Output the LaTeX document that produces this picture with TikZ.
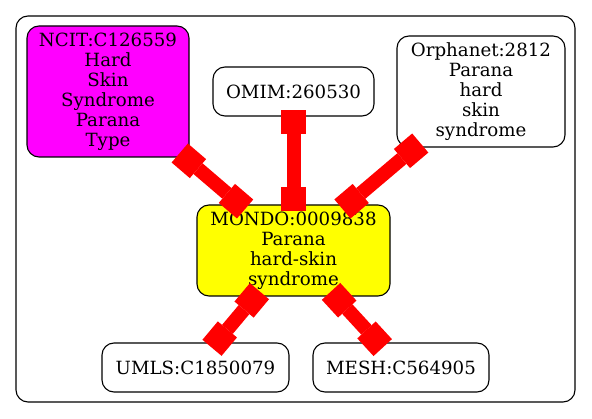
\documentclass[tikz,border=0pt]{standalone}
\usepackage{fontspec}
\setmainfont{DejaVu Serif}
\usetikzlibrary{arrows.meta}
\definecolor{ndyellow}{RGB}{255,255,0}
\definecolor{ndmagenta}{RGB}{255,0,255}
\definecolor{edred}{RGB}{255,0,0}
\begin{document}
\begin{tikzpicture}[x=1pt,y=-1pt,
  nd/.style={draw=black,line width=1.1pt,rounded corners=12pt,inner sep=0pt,
    align=center,font=\fontsize{18.2}{20}\selectfont,fill=white},
  edge/.style={draw=edred,line width=14pt,
    {Square[length=24pt,width=25pt,line width=0pt]}-{Square[length=24pt,width=25pt,line width=0pt]},
    shorten <=-7pt,shorten >=-7pt}]
\useasboundingbox (0,0) rectangle (592,419);
\node[draw=black,line width=1.1pt,rounded corners=12pt,minimum width=559pt,minimum height=386pt,inner sep=0pt] (cluster) at (295.5,209) {};
\node[nd,fill=ndmagenta,minimum width=162pt,minimum height=131pt] (ncit) at (108,91.5) {NCIT:C126559\\Hard\\Skin\\Syndrome\\Parana\\Type};
\node[nd,minimum width=161pt,minimum height=49pt] (omim) at (293.5,91.5) {OMIM:260530};
\node[nd,minimum width=168pt,minimum height=111pt] (orpha) at (481,91.5) {Orphanet:2812\\Parana\\hard\\skin\\syndrome};
\node[nd,fill=ndyellow,minimum width=193pt,minimum height=91pt] (mondo) at (293.5,250.5) {MONDO:0009838\\Parana\\hard-skin\\syndrome};
\node[nd,minimum width=187pt,minimum height=49pt] (umls) at (195.5,367.5) {UMLS:C1850079};
\node[nd,minimum width=176pt,minimum height=49pt] (mesh) at (401,367.5) {MESH:C564905};
\draw[edge] (ncit) -- (mondo);
\draw[edge] (omim) -- (mondo);
\draw[edge] (orpha) -- (mondo);
\draw[edge] (mondo) -- (umls);
\draw[edge] (mondo) -- (mesh);
\end{tikzpicture}
\end{document}
